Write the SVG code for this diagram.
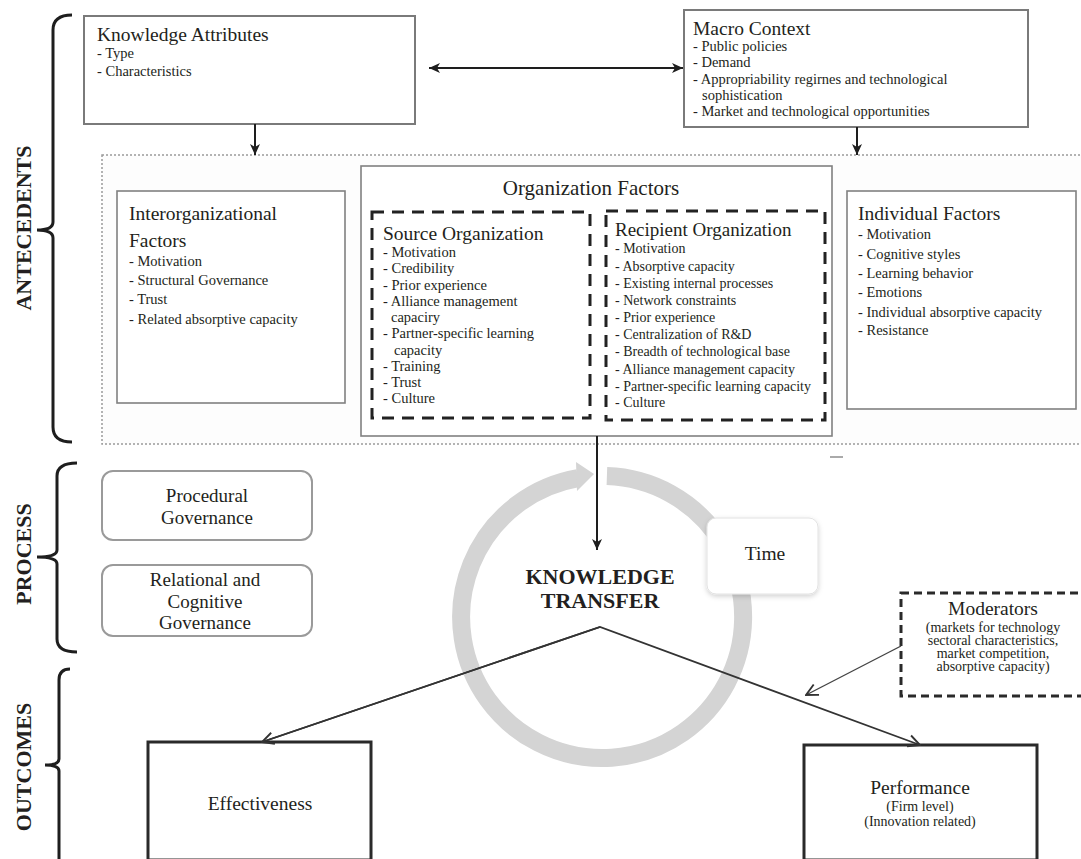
<svg xmlns="http://www.w3.org/2000/svg" width="1081" height="859" viewBox="0 0 1081 859">
<style>
text{font-family:"Liberation Serif","Times New Roman",serif;fill:#231f20}
.t{font-size:19.5px}
.s{font-size:14.5px}
.r{font-size:14px}
.lab{font-size:22px;font-weight:bold}
.c{text-anchor:middle}
.box{fill:#fff;stroke:#7a7a7a;stroke-width:2}
.obox{fill:#fff;stroke:#808080;stroke-width:1.6}
.dash{fill:none;stroke:#222;stroke-width:3;stroke-dasharray:12 8}
.thick{fill:#fff;stroke:#2a2a2a;stroke-width:3}
.round{fill:#fff;stroke:#9a9a9a;stroke-width:2}
.brace{fill:none;stroke:#1e1e1e;stroke-width:3}
.con{fill:none;stroke:#1e1e1e;stroke-width:2}
.thin{fill:none;stroke:#333;stroke-width:1.8}
</style>
<defs>
<marker id="ah" viewBox="0 0 10 10" refX="9" refY="5" markerWidth="6" markerHeight="6" orient="auto-start-reverse" markerUnits="userSpaceOnUse">
<path d="M0,0 L10,5 L0,10 L3,5 z" fill="#1e1e1e"/>
</marker>
<marker id="ah2" viewBox="0 0 12 12" refX="11" refY="6" markerWidth="14" markerHeight="14" orient="auto" markerUnits="userSpaceOnUse">
<path d="M1,1 L11,6 L1,11" fill="none" stroke="#333" stroke-width="1.6"/>
</marker>
<marker id="ahd" viewBox="0 0 12 12" refX="11" refY="6" markerWidth="12" markerHeight="12" orient="auto-start-reverse" markerUnits="userSpaceOnUse">
<path d="M0,1 L11,6 L0,11 L3,6 z" fill="#1e1e1e"/>
</marker>
<filter id="sh" x="-20%" y="-20%" width="140%" height="150%">
<feDropShadow dx="0" dy="2" stdDeviation="2.5" flood-color="#000" flood-opacity="0.18"/>
</filter>
</defs>
<rect width="1081" height="859" fill="#fff"/>

<!-- section braces and labels -->
<g id="antecedents">
<path class="brace" d="M72,15 Q53,15 53,30 L53,222 Q53,230 37,230 Q53,230 53,238 L53,427 Q53,442 72,442"/>
<text class="lab c" transform="rotate(-90 23 228)" x="23" y="228" dominant-baseline="central">ANTECEDENTS</text>
</g>
<g id="process">
<path class="brace" d="M77,463 Q57,463 57,476 L57,550 Q57,557 37,557 Q57,557 57,564 L57,639 Q57,652 77,652"/>
<text class="lab c" transform="rotate(-90 23 554)" x="23" y="554" dominant-baseline="central">PROCESS</text>
</g>
<g id="outcomes">
<path class="brace" d="M70,669 Q59,669 59,680 L59,759 Q59,765 45,765 Q59,765 59,771 L59,870"/>
<text class="lab c" transform="rotate(-90 23 767)" x="23" y="767" dominant-baseline="central">OUTCOMES</text>
</g>

<!-- antecedents container -->
<g id="container">
<rect x="102" y="155" width="990" height="289" fill="#fdfdfd" stroke="#9a9a9a" stroke-width="1.5" stroke-dasharray="2 2"/>
<line x1="830" y1="457" x2="843" y2="457" stroke="#aaa" stroke-width="2"/>
</g>

<g id="knowledge-attributes">
<rect class="box" x="84" y="16" width="331" height="108"/>
<text class="t" x="97" y="41">Knowledge Attributes</text>
<text class="s" x="97" y="58">- Type</text>
<text class="s" x="97" y="76">- Characteristics</text>
</g>

<g id="macro-context">
<rect class="box" x="684" y="10" width="344" height="117"/>
<text class="t" x="693" y="35">Macro Context</text>
<text class="s" x="693" y="51">- Public policies</text>
<text class="s" x="693" y="67">- Demand</text>
<text class="s" x="693" y="84">- Appropriability regirnes and technological</text>
<text class="s" x="702" y="100">sophistication</text>
<text class="s" x="693" y="116">- Market and technological opportunities</text>
</g>

<g id="interorganizational">
<rect class="obox" x="117" y="191" width="228" height="212"/>
<text class="t" x="129" y="220">Interorganizational</text>
<text class="t" x="129" y="247">Factors</text>
<text class="s" x="129" y="266">- Motivation</text>
<text class="s" x="129" y="285">- Structural Governance</text>
<text class="s" x="129" y="304">- Trust</text>
<text class="s" x="129" y="324">- Related absorptive capacity</text>
</g>

<g id="organization-factors">
<rect class="obox" x="361" y="166" width="471" height="270"/>
<text class="c" x="591" y="195" style="font-size:21px">Organization Factors</text>
</g>

<g id="source-organization">
<rect class="dash" x="372" y="212" width="218" height="206"/>
<text class="t" x="383" y="240">Source Organization</text>
<text class="s" x="383" y="257">- Motivation</text>
<text class="s" x="383" y="273">- Credibility</text>
<text class="s" x="383" y="290">- Prior experience</text>
<text class="s" x="383" y="306">- Alliance management</text>
<text class="s" x="391" y="322">capaciry</text>
<text class="s" x="383" y="338">- Partner-specific learning</text>
<text class="s" x="394" y="355">capacity</text>
<text class="s" x="383" y="371">- Training</text>
<text class="s" x="383" y="387">- Trust</text>
<text class="s" x="383" y="403">- Culture</text>
</g>

<g id="recipient-organization">
<rect class="dash" x="606" y="211" width="219" height="209"/>
<text x="615" y="236" style="font-size:19px">Recipient Organization</text>
<text class="r" x="615" y="253">- Motivation</text>
<text class="r" x="615" y="271">- Absorptive capacity</text>
<text class="r" x="615" y="288">- Existing internal processes</text>
<text class="r" x="615" y="305">- Network constraints</text>
<text class="r" x="615" y="322">- Prior experience</text>
<text class="r" x="615" y="339">- Centralization of R&amp;D</text>
<text class="r" x="615" y="356">- Breadth of technological base</text>
<text class="r" x="615" y="374">- Alliance management capacity</text>
<text class="r" x="615" y="391">- Partner-specific learning capacity</text>
<text class="r" x="615" y="407">- Culture</text>
</g>

<g id="individual-factors">
<rect class="obox" x="847" y="191" width="229" height="218"/>
<text class="t" x="858" y="220">Individual Factors</text>
<text class="s" x="858" y="239">- Motivation</text>
<text class="s" x="858" y="259">- Cognitive styles</text>
<text class="s" x="858" y="278">- Learning behavior</text>
<text class="s" x="858" y="297">- Emotions</text>
<text class="s" x="858" y="317">- Individual absorptive capacity</text>
<text class="s" x="858" y="335">- Resistance</text>
</g>

<g id="procedural-governance">
<rect class="round" x="102" y="471" width="210" height="69" rx="11"/>
<text class="c" x="207" y="502" style="font-size:19px">Procedural</text>
<text class="c" x="207" y="524" style="font-size:19px">Governance</text>
</g>

<g id="relational-governance">
<rect class="round" x="102" y="565" width="210" height="71" rx="11"/>
<text class="c" x="205" y="586" style="font-size:19px">Relational and</text>
<text class="c" x="205" y="608" style="font-size:19px">Cognitive</text>
<text class="c" x="205" y="629" style="font-size:19px">Governance</text>
</g>

<g id="knowledge-transfer">
<path d="M606.9,476.1 A141,141 0 1 1 578,478.1" fill="none" stroke="#d4d4d4" stroke-width="18"/>
<polygon points="576,462 594,474 577,491" fill="#d4d4d4"/>
<text class="c" x="600" y="584" style="font-size:22px;font-weight:bold">KNOWLEDGE</text>
<text class="c" x="600" y="608" style="font-size:22px;font-weight:bold">TRANSFER</text>
</g>

<g id="time">
<rect x="707" y="518" width="111" height="76" rx="9" fill="#fff" stroke="#e2e2e2" stroke-width="1" filter="url(#sh)"/>
<text class="c t" x="765" y="560">Time</text>
</g>

<g id="moderators">
<rect x="901" y="593" width="190" height="103" fill="#fff" stroke="#2a2a2a" stroke-width="3" stroke-dasharray="8 5"/>
<text class="c t" x="993" y="615">Moderators</text>
<text class="c r" x="993" y="632">(markets for technology</text>
<text class="c r" x="993" y="645">sectoral characteristics,</text>
<text class="c r" x="993" y="658">market competition,</text>
<text class="c r" x="993" y="671">absorptive capacity)</text>
</g>

<g id="effectiveness">
<rect class="thick" x="148" y="742" width="223" height="118"/>
<text class="c t" x="260" y="810">Effectiveness</text>
</g>

<g id="performance">
<rect class="thick" x="804" y="745" width="233" height="115"/>
<text class="c t" x="920" y="794">Performance</text>
<text class="c r" x="920" y="811">(Firm level)</text>
<text class="c r" x="920" y="826">(Innovation related)</text>
</g>

<g id="connectors">
<line class="con" x1="429" y1="68" x2="683" y2="68" marker-start="url(#ahd)" marker-end="url(#ahd)"/>
<line class="con" x1="255" y1="124" x2="255" y2="155" marker-end="url(#ahd)"/>
<line class="con" x1="857" y1="127" x2="857" y2="155" marker-end="url(#ahd)"/>
<line class="con" x1="597" y1="436" x2="597" y2="550" marker-end="url(#ahd)"/>
<polyline class="thin" points="262,742 600,627 920,745" marker-end="url(#ah2)"/>
<line class="thin" x1="600" y1="627" x2="262" y2="742" marker-end="url(#ah2)"/>
<line x1="901" y1="646" x2="806" y2="695" stroke="#444" stroke-width="1.4" marker-end="url(#ah2)"/>
</g>
</svg>
